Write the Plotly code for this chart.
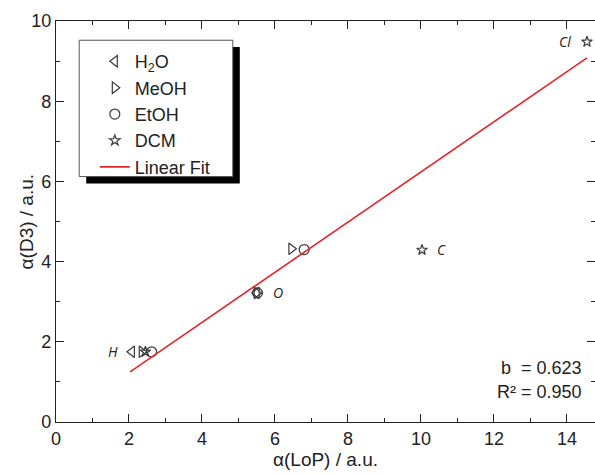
import plotly.graph_objects as go

# ---- data ----
h2o_x = [2.08, 5.50]
h2o_y = [1.75, 3.22]
meoh_x = [2.35, 5.50, 6.45]
meoh_y = [1.75, 3.22, 4.32]
etoh_x = [2.62, 5.52, 6.80]
etoh_y = [1.75, 3.22, 4.30]
dcm_x = [2.45, 10.03, 14.55]
dcm_y = [1.75, 4.29, 9.48]
fit_x = [2.03, 14.55]
fit_y = [1.25, 9.08]

label_text = ["H", "O", "C", "Cl"]
label_x = [1.56, 6.08, 10.55, 13.95]
label_y = [1.75, 3.22, 4.30, 9.48]

slope_txt = "b  = 0.623"
r2_txt = "R² = 0.950"

FONT = "Liberation Sans, Arial, sans-serif"
MK = "#3a3a3a"

fig = go.Figure()
mk = dict(size=10, color=MK, line=dict(width=1.2, color=MK))
fig.add_trace(go.Scatter(x=h2o_x, y=h2o_y, mode="markers", name="H<sub>2</sub>O",
                         marker=dict(symbol="triangle-left-open", **mk)))
fig.add_trace(go.Scatter(x=meoh_x, y=meoh_y, mode="markers", name="MeOH",
                         marker=dict(symbol="triangle-right-open", **mk)))
fig.add_trace(go.Scatter(x=etoh_x, y=etoh_y, mode="markers", name="EtOH",
                         marker=dict(symbol="circle-open", **mk)))
fig.add_trace(go.Scatter(x=dcm_x, y=dcm_y, mode="markers", name="DCM",
                         marker=dict(symbol="star-open", size=8, color=MK,
                                     line=dict(width=1.2, color=MK))))
fig.add_trace(go.Scatter(x=fit_x, y=fit_y, mode="lines", name="Linear Fit",
                         line=dict(color="#e3262c", width=1.6)))

for t, xx, yy in zip(label_text, label_x, label_y):
    fig.add_annotation(x=xx, y=yy, text="<i>" + t + "</i>", showarrow=False,
                       font=dict(family="Open Sans, sans-serif", size=14, color="#222"),
                       xanchor="center", yanchor="middle")

fig.add_annotation(x=0.98, y=0.135, xref="paper", yref="paper", text=slope_txt,
                   showarrow=False, xanchor="right", yanchor="middle",
                   font=dict(family=FONT, size=18, color="#222"))
fig.add_annotation(x=0.98, y=0.075, xref="paper", yref="paper", text=r2_txt,
                   showarrow=False, xanchor="right", yanchor="middle",
                   font=dict(family=FONT, size=18, color="#222"))

# y-axis title placed precisely
fig.add_annotation(x=-0.054, y=0.5, xref="paper", yref="paper", text="α(D3) / a.u.",
                   showarrow=False, textangle=-90, xanchor="center", yanchor="middle",
                   font=dict(family=FONT, size=19, color="#222"))

# legend frame with shadow (decoration)
fig.add_shape(type="rect", xref="paper", yref="paper", x0=0.056, x1=0.341,
              y0=0.595, y1=0.935, fillcolor="black", line=dict(width=0), layer="above")
fig.add_shape(type="rect", xref="paper", yref="paper", x0=0.043, x1=0.328,
              y0=0.612, y1=0.952, fillcolor="white",
              line=dict(width=1, color="#555"), layer="above")

axis_common = dict(showgrid=False, zeroline=False, showline=True, linecolor="#222",
                   linewidth=1.3, ticks="inside", ticklen=8, tickwidth=1.3,
                   tickcolor="#222", tickfont=dict(family=FONT, size=18, color="#222"),
                   minor=dict(ticks="inside", ticklen=4, tickwidth=1.2, tickcolor="#222", dtick=1))

fig.update_layout(
    width=595, height=474,
    margin=dict(l=56, r=0, t=21, b=52),
    paper_bgcolor="white", plot_bgcolor="white",
    font=dict(family=FONT, color="#222"),
    xaxis=dict(range=[0, 14.77], dtick=2, tick0=0, mirror="ticks",
               title=dict(text="α(LoP) / a.u.", font=dict(size=19), standoff=4),
               **axis_common),
    yaxis=dict(range=[0, 10], dtick=2, tick0=0, mirror=False, **axis_common),
    yaxis2=dict(range=[0, 10], dtick=2, tick0=0, overlaying="y", side="right",
                showticklabels=False, showgrid=False, zeroline=False, showline=False,
                ticks="inside", ticklen=8, tickwidth=1.3, tickcolor="#222",
                minor=dict(ticks="inside", ticklen=4, tickwidth=1.2, tickcolor="#222", dtick=1)),
    legend=dict(x=0.072, y=0.945, xanchor="left", yanchor="top",
                bgcolor="rgba(0,0,0,0)", borderwidth=0,
                font=dict(family=FONT, size=18, color="#222"),
                tracegroupgap=0),
    showlegend=True,
)
fig.add_trace(go.Scatter(x=[None], y=[None], yaxis="y2", showlegend=False, hoverinfo="skip"))

fig.write_html("out.html")
